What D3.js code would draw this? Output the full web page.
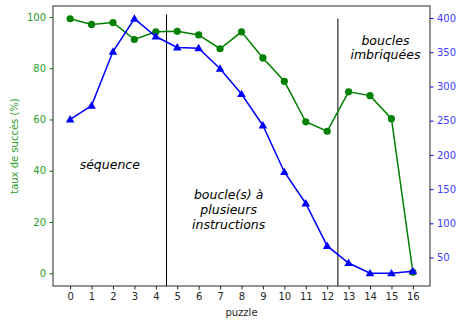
<!DOCTYPE html>
<html><head><meta charset="utf-8">
<script src="https://cdn.jsdelivr.net/npm/d3@7"></script>
<style>body{margin:0;background:#fff}svg text{font-family:"DejaVu Sans",sans-serif}</style>
</head><body>
<script>
const puzzles = d3.range(0, 17);
const tauxSucces = [99.3, 97.1, 97.8, 91.2, 94.2, 94.4, 93.0, 87.6, 94.2, 84.0, 74.9, 59.1, 55.4, 70.8, 69.3, 60.3, 0.4];
const nbJoueurs = [252, 272, 351, 399, 373, 357, 356, 326, 289, 243, 175, 129, 67, 42, 27, 27, 30];
const leftTicks = [0, 20, 40, 60, 80, 100];
const rightTicks = [50, 100, 150, 200, 250, 300, 350, 400];
const separators = [{x: 4.5, top: 101}, {x: 12.5, top: 99.4}];
const annotations = [
  {x: 1.85, y: 42.5, lines: ["séquence"]},
  {x: 7.4, y: 24.8, lines: ["boucle(s) à", "plusieurs", "instructions"]},
  {x: 14.72, y: 88.0, lines: ["boucles", "imbriquées"]}
];

const W = 457, H = 320;
const m = {left: 53, right: 27, top: 6, bottom: 34};
const svg = d3.select("body").append("svg").attr("width", W).attr("height", H);

const x = d3.scaleLinear().domain([-0.8, 16.8]).range([m.left, W - m.right]);
const yL = d3.scaleLinear().domain([-4.97, 104.27]).range([H - m.bottom, m.top]);
const rMin = d3.min(nbJoueurs), rMax = d3.max(nbJoueurs), pad = (rMax - rMin) * 0.05;
const yR = d3.scaleLinear().domain([rMin - pad, rMax + pad]).range([H - m.bottom, m.top]);

// separators
svg.selectAll("line.sep").data(separators).join("line")
  .attr("x1", d => x(d.x)).attr("x2", d => x(d.x))
  .attr("y1", d => yL(d.top)).attr("y2", H - m.bottom)
  .attr("stroke", "#000").attr("stroke-width", 1);

// green line
const lineG = d3.line().x((d, i) => x(puzzles[i])).y(d => yL(d));
svg.append("path").datum(tauxSucces).attr("d", lineG)
  .attr("fill", "none").attr("stroke", "green").attr("stroke-width", 1.5);
svg.selectAll("circle.g").data(tauxSucces).join("circle")
  .attr("cx", (d, i) => x(puzzles[i])).attr("cy", d => yL(d)).attr("r", 3.6).attr("fill", "green");

// blue line
const lineB = d3.line().x((d, i) => x(puzzles[i])).y(d => yR(d));
svg.append("path").datum(nbJoueurs).attr("d", lineB)
  .attr("fill", "none").attr("stroke", "blue").attr("stroke-width", 1.5);
const tri = d3.symbol().type(d3.symbolTriangle).size(32);
svg.selectAll("path.b").data(nbJoueurs).join("path")
  .attr("transform", (d, i) => `translate(${x(puzzles[i])},${yR(d) + 0.6})`)
  .attr("d", tri).attr("fill", "blue");

// axes
const fs = "10px";
const gx = svg.append("g").attr("transform", `translate(0,${H - m.bottom})`)
  .call(d3.axisBottom(x).tickValues(puzzles).tickSizeOuter(0).tickSize(3.5).tickPadding(3.5));
gx.selectAll("text").attr("font-size", fs).attr("fill", "#262626").style("font-family", "DejaVu Sans");
gx.selectAll("line").attr("stroke", "#262626");
gx.select(".domain").remove();

const gl = svg.append("g").attr("transform", `translate(${m.left},0)`)
  .call(d3.axisLeft(yL).tickValues(leftTicks).tickSizeOuter(0).tickSize(3.5).tickPadding(3.5));
gl.selectAll("text").attr("font-size", fs).attr("fill", "#2ca02c").style("font-family", "DejaVu Sans");
gl.selectAll("line").attr("stroke", "green");
gl.select(".domain").remove();

const gr = svg.append("g").attr("transform", `translate(${W - m.right},0)`)
  .call(d3.axisRight(yR).tickValues(rightTicks).tickSizeOuter(0).tickSize(3.5).tickPadding(3.5));
gr.selectAll("text").attr("font-size", fs).attr("fill", "#4040ff").style("font-family", "DejaVu Sans");
gr.selectAll("line").attr("stroke", "blue");
gr.select(".domain").remove();

// frame
svg.append("rect").attr("x", m.left).attr("y", m.top)
  .attr("width", W - m.left - m.right).attr("height", H - m.top - m.bottom)
  .attr("fill", "none").attr("stroke", "#262626").attr("stroke-width", 1);

// labels
svg.append("text").attr("x", (m.left + W - m.right) / 2).attr("y", 316)
  .attr("text-anchor", "middle").attr("font-size", fs).attr("fill", "#262626").text("puzzle");
svg.append("text").attr("transform", `translate(18,${(m.top + H - m.bottom) / 2}) rotate(-90)`)
  .attr("text-anchor", "middle").attr("font-size", fs).attr("fill", "#2ca02c").text("taux de succès (%)");

// annotations
annotations.forEach(a => {
  const t = svg.append("text").attr("text-anchor", "middle").attr("font-size", "12.5px")
    .attr("font-style", "italic").attr("fill", "#000");
  const n = a.lines.length;
  a.lines.forEach((l, i) => {
    t.append("tspan").attr("x", x(a.x)).attr("y", yL(a.y) + (i - (n - 1) / 2) * 14.8 + 4.3).text(l);
  });
});
</script>
</body></html>
